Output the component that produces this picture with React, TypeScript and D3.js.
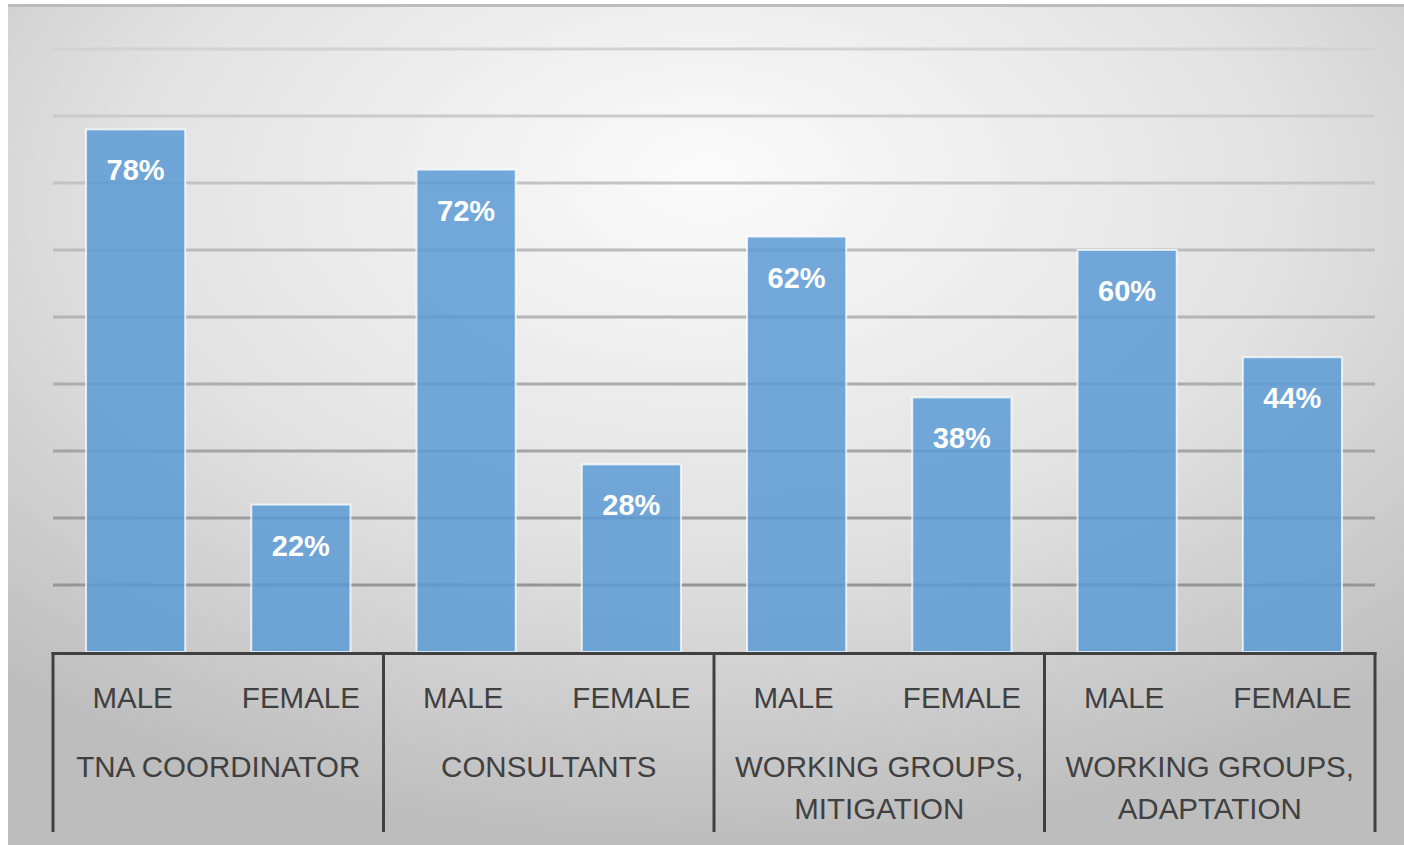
import { useMemo } from 'react';
import * as d3 from 'd3';

const categories = [
  ['TNA COORDINATOR'],
  ['CONSULTANTS'],
  ['WORKING GROUPS,', 'MITIGATION'],
  ['WORKING GROUPS,', 'ADAPTATION'],
];
const genders = ['MALE', 'FEMALE'];
const maleValues = [78, 72, 62, 60];
const femaleValues = [22, 28, 38, 44];
const yTicks = [0, 10, 20, 30, 40, 50, 60, 70, 80, 90];

export default function App() {
  const W = 1404;
  const H = 845;
  const plot = { left: 53, right: 1375, top: 49, bottom: 652 };

  const x0 = useMemo(
    () => d3.scaleBand<number>().domain(d3.range(categories.length)).range([plot.left, plot.right]).padding(0),
    []
  );
  const x1 = useMemo(
    () => d3.scaleBand<string>().domain(genders).range([0, x0.bandwidth()]).paddingInner(0.4).paddingOuter(0.2),
    [x0]
  );
  const y = useMemo(() => d3.scaleLinear().domain([0, 90]).range([plot.bottom, plot.top]), []);

  const series = [maleValues, femaleValues];
  const font = '"Liberation Sans", Arial, sans-serif';

  return (
    <svg width={W} height={H} style={{ position: 'absolute', left: 0, top: 0 }}>
      <defs>
        <radialGradient id="bg" cx="50%" cy="25%" r="75%" fx="50%" fy="20%">
          <stop offset="0%" stopColor="#fbfbfb" />
          <stop offset="55%" stopColor="#e2e2e2" />
          <stop offset="100%" stopColor="#bdbdbd" />
        </radialGradient>
        <linearGradient id="grid" gradientUnits="userSpaceOnUse" x1="0" y1={plot.top} x2="0" y2={plot.bottom}>
          <stop offset="0%" stopColor="#d2d2d2" />
          <stop offset="100%" stopColor="#8e8e8e" />
        </linearGradient>
      </defs>
      <rect x={0} y={0} width={W} height={H} fill="#ffffff" />
      <rect x={8} y={5} width={W - 8} height={H - 5} fill="url(#bg)" />
      <line x1={8} x2={W} y1={5.5} y2={5.5} stroke="#bcbcbc" strokeWidth={3} />

      {yTicks.slice(1).map((t) => (
        <line key={t} x1={plot.left} x2={plot.right} y1={y(t)} y2={y(t)} stroke="url(#grid)" strokeWidth={3} />
      ))}

      {categories.map((_, ci) =>
        genders.map((g, gi) => {
          const v = series[gi][ci];
          const bx = (x0(ci) as number) + (x1(g) as number);
          const bw = x1.bandwidth();
          return (
            <g key={`${ci}-${g}`}>
              <rect
                x={bx}
                y={y(v)}
                width={bw}
                height={plot.bottom - y(v)}
                fill="#5b9bd5"
                fillOpacity={0.85}
                stroke="#ffffff"
                strokeOpacity={0.75}
                strokeWidth={2}
              />
              <text
                x={bx + bw / 2}
                y={y(v) + 51}
                textAnchor="middle"
                fill="#ffffff"
                fontFamily={font}
                fontWeight="bold"
                fontSize={29}
              >
                {v}%
              </text>
              <text
                x={bx + bw / 2 - (gi === 0 ? 3 : 0)}
                y={708}
                textAnchor="middle"
                fill="#404040"
                fontFamily={font}
                fontSize={29.5}
              >
                {g}
              </text>
            </g>
          );
        })
      )}

      <line x1={plot.left - 1.5} x2={plot.right + 1.5} y1={plot.bottom + 1.5} y2={plot.bottom + 1.5} stroke="#404040" strokeWidth={3} />
      {d3.range(categories.length + 1).map((i) => {
        const xx = i < categories.length ? (x0(i) as number) : plot.right;
        return <line key={i} x1={xx} x2={xx} y1={plot.bottom} y2={832} stroke="#404040" strokeWidth={3} />;
      })}

      {categories.map((lines, ci) => (
        <text
          key={ci}
          x={(x0(ci) as number) + x0.bandwidth() / 2}
          textAnchor="middle"
          fill="#404040"
          fontFamily={font}
          fontSize={29.5}
        >
          {lines.map((l, li) => (
            <tspan key={li} x={(x0(ci) as number) + x0.bandwidth() / 2} y={777 + li * 42}>
              {l}
            </tspan>
          ))}
        </text>
      ))}
    </svg>
  );
}
